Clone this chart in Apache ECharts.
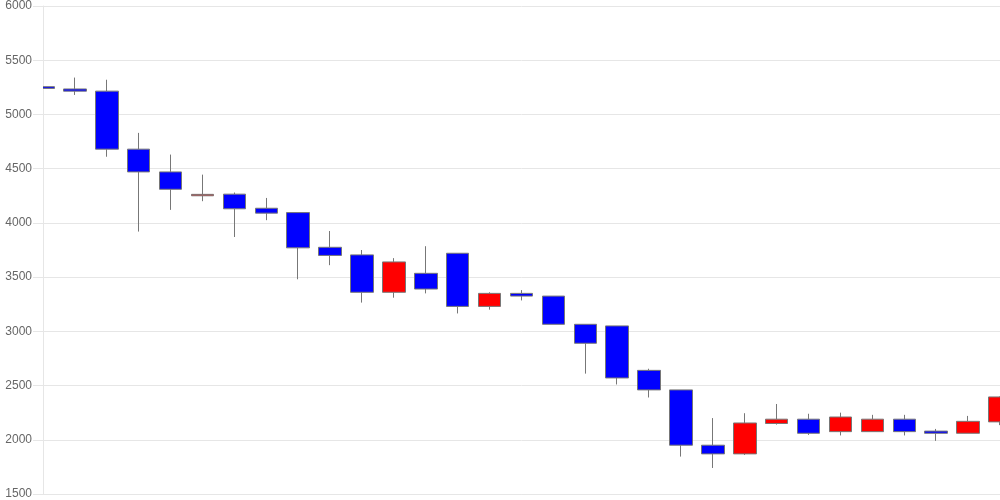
<!DOCTYPE html>
<html>
<head>
<meta charset="utf-8">
<script src="https://cdn.jsdelivr.net/npm/echarts@6/dist/echarts.min.js"></script>
<style>
html,body{margin:0;padding:0;background:#fff;}
#chart{width:1000px;height:500px;}
</style>
</head>
<body>
<div id="chart"></div>
<script>
var categories = ['1','2','3','4','5','6','7','8','9','10','11','12','13','14','15','16','17','18','19','20','21','22','23','24','25','26','27','28','29','30','31'];
var openVals  = [5256,5235,5215,4680,4470,4250,4265,4135,4095,3775,3705,3360,3535,3720,3230,3350,3325,3065,3050,2640,2460,1950,1870,2150,2190,2075,2075,2190,2080,2060,2165];
var closeVals = [5240,5215,4680,4470,4310,4263,4130,4090,3770,3700,3360,3640,3390,3230,3350,3325,3065,2890,2570,2460,1950,1870,2155,2190,2060,2210,2190,2075,2060,2170,2395];
var lowVals   = [5165,5180,4610,3920,4120,4200,3870,4025,3480,3610,3265,3310,3350,3165,3200,3285,3065,2610,2510,2390,1845,1740,1860,2140,2045,2040,2075,2040,1990,2060,2135];
var highVals  = [5262,5340,5320,4830,4630,4445,4280,4230,4095,3925,3750,3675,3785,3720,3360,3380,3325,3065,3050,2655,2460,2200,2245,2330,2240,2250,2230,2230,2100,2220,2400];
var yTicks = [1500,6000,500];

var data = categories.map(function(c,i){ return [openVals[i], closeVals[i], lowVals[i], highVals[i]]; });

var chart = echarts.init(document.getElementById('chart'), null, {renderer:'canvas'});
chart.setOption({
  animation:false,
  backgroundColor:'#ffffff',
  grid:{left:43,right:0,top:6,bottom:6,containLabel:false},
  xAxis:{
    type:'category',
    data:categories,
    boundaryGap:false,
    axisLine:{show:true,lineStyle:{color:'#e6e6e6'}},
    axisTick:{show:false},
    axisLabel:{show:false},
    splitLine:{show:false}
  },
  yAxis:{
    type:'value',
    min:yTicks[0],max:yTicks[1],interval:yTicks[2],
    axisLine:{show:true,lineStyle:{color:'#e6e6e6'}},
    axisTick:{show:true,length:10,lineStyle:{color:'#e6e6e6'}},
    axisLabel:{color:'#666',fontSize:12,fontFamily:'Liberation Sans, Arial, sans-serif',margin:11,
      formatter:function(v){return String(v);}},
    splitLine:{show:true,lineStyle:{color:'#e6e6e6'}}
  },
  series:[{
    type:'candlestick',
    data:data,
    barWidth:23,
    clip:true,
    itemStyle:{
      color:'#ff0000',
      color0:'#0000ff',
      borderColor:'#777777',
      borderColor0:'#777777',
      borderWidth:1
    }
  }]
});

// mask the part of the first candle that lies left of the plot area (clip to grid)
var pTop = chart.convertToPixel({gridIndex:0},[0, highVals[0]]);
var pBot = chart.convertToPixel({gridIndex:0},[0, lowVals[0]]);
chart.setOption({
  graphic:[{
    type:'rect', z:10,
    shape:{x:0, y:pTop[1]-3, width:Math.floor(pTop[0]), height:(pBot[1]-pTop[1])+6},
    style:{fill:'#ffffff'}
  }]
});
</script>
</body>
</html>
